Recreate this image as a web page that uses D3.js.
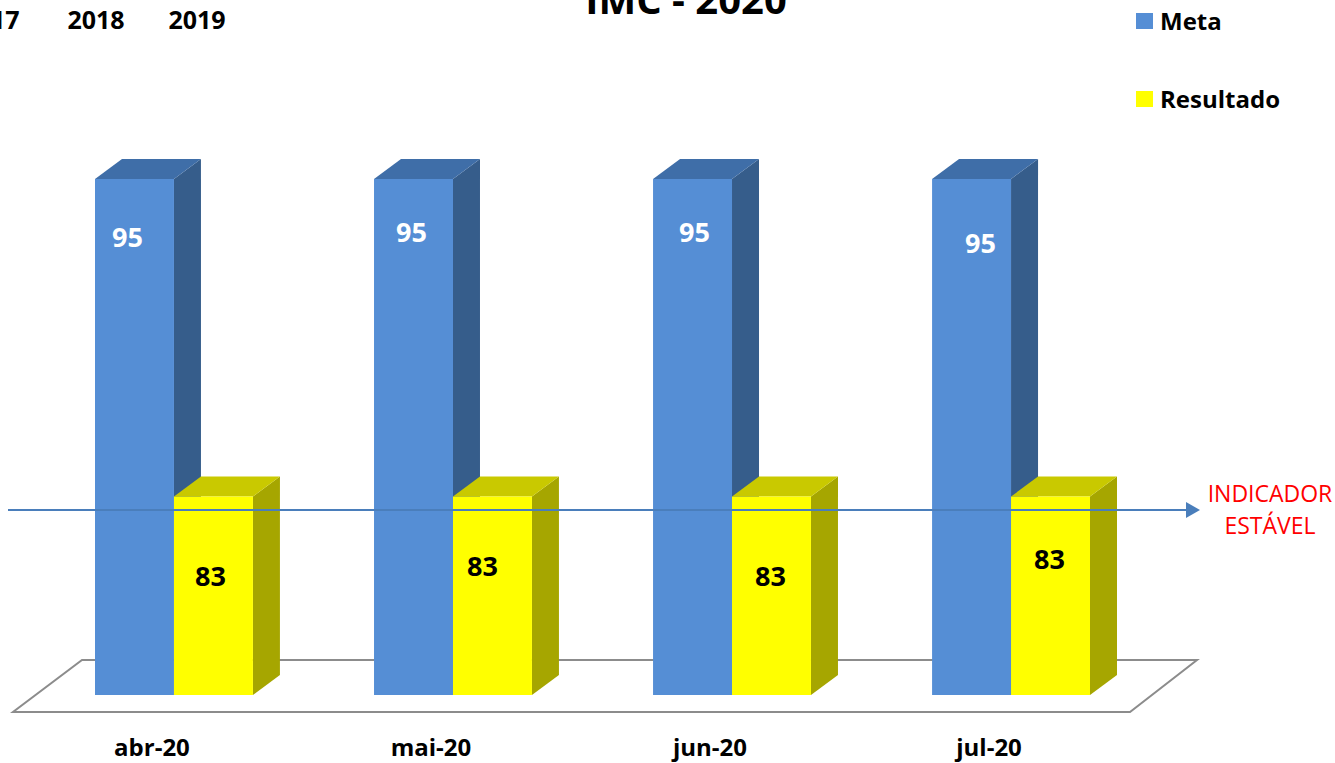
<!DOCTYPE html>
<html><head><meta charset="utf-8">
<script src="https://cdn.jsdelivr.net/npm/d3@7"></script>
<style>
html,body{margin:0;padding:0;background:#fff;overflow:hidden;}
svg{display:block;font-family:"Open Sans",sans-serif;}
</style></head>
<body>
<script>
// ---- data ----
const categories = ["abr-20", "mai-20", "jun-20", "jul-20"];
const seriesNames = ["Meta", "Resultado"];
const meta = [95, 95, 95, 95];
const resultado = [83, 83, 83, 83];
const title = "IMC - 2020";
const yearTabs = ["2017", "2018", "2019"];
const annotation = ["INDICADOR", "ESTÁVEL"];

// ---- layout (not data) ----
const W = 1335, H = 763;
const colors = {
  Meta: {front: "#558ed5", top: "#3f6ea8", side: "#365d8b"},
  Resultado: {front: "#ffff00", top: "#c9c900", side: "#a6a600"}
};
const depth = {dx: 27, dy: -20};
// manual label nudges (as placed in source chart)
const labelNudge = {
  Meta: [[-7, 58], [-2, 53], [2, 53], [9, 64]],
  Resultado: [[-3, 79], [-10, 69], [-1, 79], [-1, 62]]
};

const svg = d3.select("body").append("svg").attr("width", W).attr("height", H);

const x = d3.scaleBand().domain(categories).range([95, 1090]).paddingInner(0.434).paddingOuter(0);
const xs = d3.scaleBand().domain(seriesNames).range([0, x.bandwidth()]).padding(0);
const y = d3.scaleLinear().domain([75.5, 95]).range([695, 179]);

// floor
const floor = [[82, 660], [1197, 660], [1130, 712], [13, 712]];
svg.append("path")
  .attr("d", d3.line()(floor) + "Z")
  .attr("fill", "none").attr("stroke", "#8c8c8c").attr("stroke-width", 2);

// bars
const rows = [];
categories.forEach((c, i) => {
  rows.push({cat: c, i, s: "Meta", v: meta[i]});
  rows.push({cat: c, i, s: "Resultado", v: resultado[i]});
});
const g = svg.append("g");
rows.forEach(d => {
  const x0 = x(d.cat) + xs(d.s), x1 = x0 + xs.bandwidth();
  const yt = y(d.v), yb = y.range()[0];
  const c = colors[d.s], dx = depth.dx, dy = depth.dy;
  const bg = g.append("g");
  bg.append("path").attr("d", d3.line()([[x1, yt], [x1 + dx, yt + dy], [x1 + dx, yb + dy], [x1, yb]]) + "Z")
    .attr("fill", c.side);
  bg.append("path").attr("d", d3.line()([[x0, yt], [x0 + dx, yt + dy], [x1 + dx, yt + dy], [x1, yt]]) + "Z")
    .attr("fill", c.top);
  bg.append("rect").attr("x", x0).attr("y", yt).attr("width", x1 - x0).attr("height", yb - yt)
    .attr("fill", c.front);
});

// value labels
rows.forEach(d => {
  const cx = x(d.cat) + xs(d.s) + xs.bandwidth() / 2;
  const n = labelNudge[d.s][d.i];
  svg.append("text")
    .attr("x", cx + n[0]).attr("y", y(d.v) + n[1] + 10)
    .attr("text-anchor", "middle")
    .attr("font-size", 27).attr("font-weight", 700)
    .attr("fill", d.s === "Meta" ? "#ffffff" : "#000000")
    .text(d.v);
});

// category labels
svg.append("g").selectAll("text").data(categories).join("text")
  .attr("x", d => x(d) + x.bandwidth() / 2 - 22)
  .attr("y", 756)
  .attr("text-anchor", "middle")
  .attr("font-size", 24).attr("font-weight", 700).attr("fill", "#000")
  .text(d => d);

// arrow line
svg.append("line").attr("x1", 8).attr("x2", 1188).attr("y1", 510).attr("y2", 510)
  .attr("stroke", "#4a7ebb").attr("stroke-width", 2);
svg.append("path").attr("d", "M1186,502 L1200,510 L1186,518 Z").attr("fill", "#4a7ebb");

// annotation
svg.append("text").attr("x", 1270).attr("y", 502).attr("text-anchor", "middle")
  .attr("font-size", 23).attr("fill", "#ff0000").text(annotation[0]);
svg.append("text").attr("x", 1270).attr("y", 534).attr("text-anchor", "middle")
  .attr("font-size", 23).attr("fill", "#ff0000").text(annotation[1]);

// title (cut at top)
svg.append("text").attr("x", 686).attr("y", 14).attr("text-anchor", "middle")
  .attr("font-size", 40).attr("font-weight", 700).attr("fill", "#000").text(title);

// year tabs
const yearX = [-9, 96, 197];
svg.append("g").selectAll("text").data(yearTabs).join("text")
  .attr("x", (d, i) => yearX[i]).attr("y", 29)
  .attr("text-anchor", "middle")
  .attr("font-size", 25).attr("font-weight", 700).attr("fill", "#000")
  .text(d => d);

// legend
const leg = svg.append("g");
seriesNames.forEach((s, i) => {
  const ly = 13 + i * 78;
  leg.append("rect").attr("x", 1136).attr("y", ly).attr("width", 17).attr("height", 16)
    .attr("fill", colors[s].front);
  leg.append("text").attr("x", 1160).attr("y", ly + 17)
    .attr("font-size", 24).attr("font-weight", 700).attr("fill", "#000").text(s);
});
</script>
</body></html>
